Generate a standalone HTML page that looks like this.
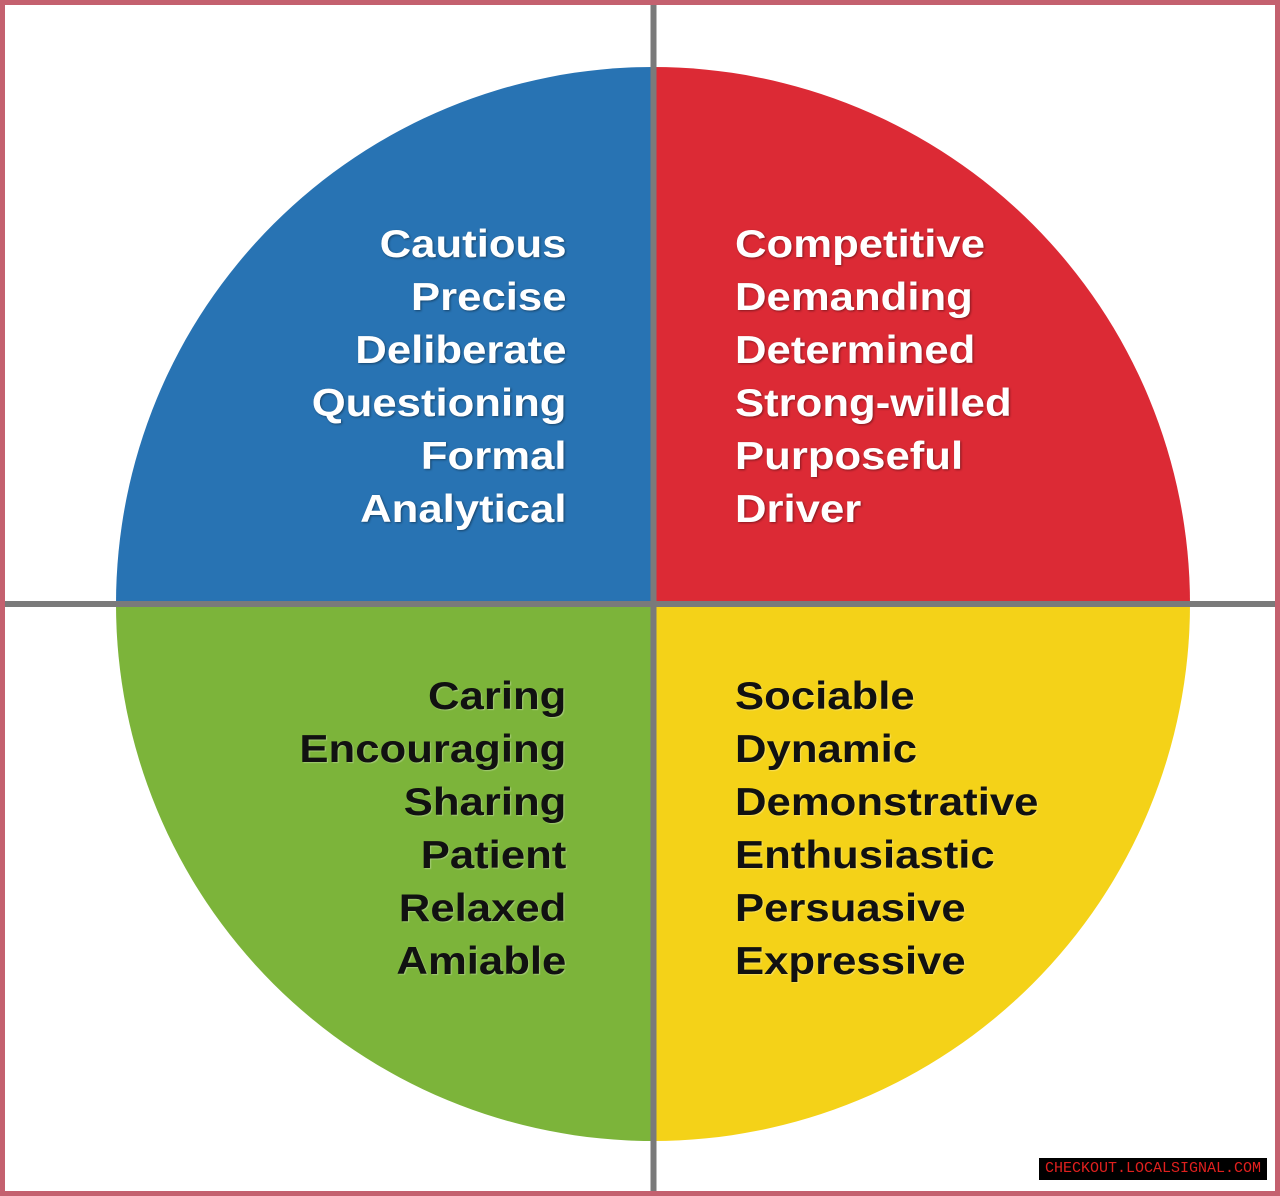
<!DOCTYPE html>
<html><head><style>
html,body{margin:0;padding:0;}
body{width:1280px;height:1196px;position:relative;background:#fff;overflow:hidden;font-family:"Liberation Sans",Arial,sans-serif;}
.frame{position:absolute;left:0;top:0;width:1270px;height:1186px;border:5px solid #c4616f;}
.t{position:absolute;font-weight:bold;font-size:39px;line-height:53px;}
.r{text-align:right;transform:scaleX(1.12);transform-origin:right top;}
.l{transform:scaleX(1.12);transform-origin:left top;}
.w{color:#fff;text-shadow:1px 1px 2px rgba(0,0,0,0.4);}
.k{color:#111;text-shadow:1px 1px 1px rgba(255,255,255,0.3);}
.wm{position:absolute;left:1039px;top:1158px;width:228px;height:22px;background:#000;color:#e0201e;font-family:"Liberation Mono",monospace;font-size:15px;line-height:22px;text-align:center;}
</style></head><body>
<svg width="1280" height="1196" style="position:absolute;left:0;top:0">
<path d="M653,604 L653,67 A537,537 0 0 0 116,604 Z" fill="#2873b3"/>
<path d="M653,604 L653,67 A537,537 0 0 1 1190,604 Z" fill="#dc2a35"/>
<path d="M653,604 L116,604 A537,537 0 0 0 653,1141 Z" fill="#7cb43a"/>
<path d="M653,604 L1190,604 A537,537 0 0 1 653,1141 Z" fill="#f4d218"/>
<line x1="653.5" y1="0" x2="653.5" y2="1196" stroke="#7a7a7a" stroke-width="6"/>
<line x1="0" y1="604" x2="1280" y2="604" stroke="#7a7a7a" stroke-width="6"/>
</svg>
<div class="frame"></div>
<div class="t r w" style="right:714px;top:218px;">Cautious<br>Precise<br>Deliberate<br>Questioning<br>Formal<br>Analytical</div>
<div class="t l w" style="left:735px;top:218px;">Competitive<br>Demanding<br>Determined<br>Strong-willed<br>Purposeful<br>Driver</div>
<div class="t r k" style="right:714px;top:670px;">Caring<br>Encouraging<br>Sharing<br>Patient<br>Relaxed<br>Amiable</div>
<div class="t l k" style="left:735px;top:670px;">Sociable<br>Dynamic<br>Demonstrative<br>Enthusiastic<br>Persuasive<br>Expressive</div>
<div class="wm">CHECKOUT.LOCALSIGNAL.COM</div>
</body></html>
